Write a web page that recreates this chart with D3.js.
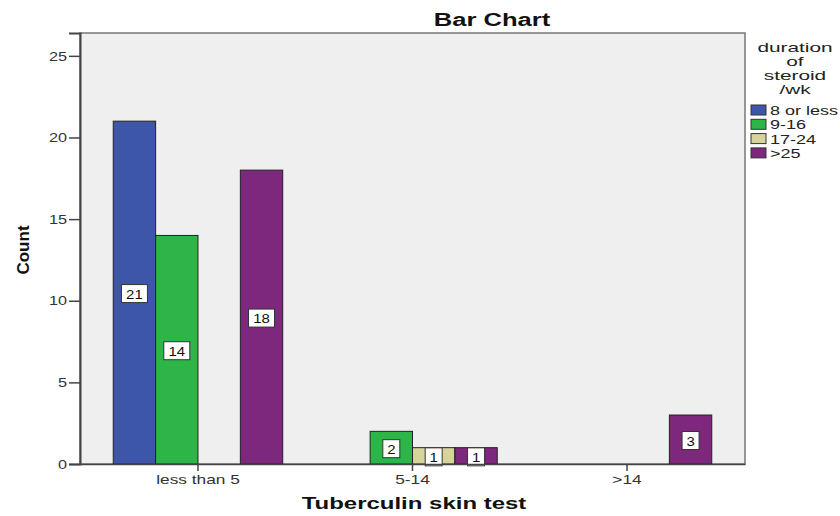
<!DOCTYPE html>
<html>
<head>
<meta charset="utf-8">
<script src="https://cdn.jsdelivr.net/npm/d3@7"></script>
<style>
  body { margin: 0; background: #fff; }
  svg { display: block; font-family: "Liberation Sans", Arial, sans-serif; }
</style>
</head>
<body>
<script>
const categories = ["less than 5", "5-14", ">14"];
const groups = ["8 or less", "9-16", "17-24", ">25"];
const colors = ["#3d56aa", "#2db548", "#d6d39b", "#7d287d"];
const less5 = [21, 14, 0, 18];
const from5to14 = [0, 2, 1, 1];
const over14 = [0, 0, 0, 3];
const yTicks = [0, 5, 10, 15, 20, 25];

const series = [less5, from5to14, over14];

const w = 840;
const h = 516;
const m = {left: 80, right: 95, top: 33, bottom: 52};

const svg = d3.select("body").append("svg")
  .attr("width", w)
  .attr("height", h);

// the reference text is drawn wide, so stretch text horizontally
function stretch(sel, k) {
  sel.each(function() {
    const len = this.getComputedTextLength();
    d3.select(this)
      .attr("textLength", len * k)
      .attr("lengthAdjust", "spacingAndGlyphs");
  });
}

const x = d3.scaleBand()
  .domain(categories)
  .range([m.left, w - m.right])
  .paddingInner(0.21)
  .paddingOuter(0.155);

const xSub = d3.scaleBand()
  .domain(groups)
  .range([0, x.bandwidth()]);

const y = d3.scaleLinear()
  .domain([0, 26.4])
  .range([h - m.bottom, m.top]);

const color = d3.scaleOrdinal().domain(groups).range(colors);

// plot background
svg.append("rect")
  .attr("x", m.left)
  .attr("y", m.top)
  .attr("width", w - m.right - m.left)
  .attr("height", h - m.bottom - m.top)
  .attr("fill", "#efefef")
  .attr("stroke", "#777")
  .attr("stroke-width", 1.5);

// bars
const rows = [];
series.forEach((vals, i) => {
  vals.forEach((v, j) => {
    if (v > 0) rows.push({cat: categories[i], grp: groups[j], value: v});
  });
});

const bars = svg.append("g")
  .selectAll("g")
  .data(rows)
  .enter().append("g")
  .attr("transform", d => `translate(${x(d.cat) + xSub(d.grp)},0)`);

bars.append("rect")
  .attr("x", 0)
  .attr("y", d => y(d.value))
  .attr("width", xSub.bandwidth())
  .attr("height", d => y(0) - y(d.value))
  .attr("fill", d => color(d.grp))
  .attr("stroke", "#222")
  .attr("stroke-width", 1);

// value labels
bars.each(function(d) {
  const g = d3.select(this);
  const cx = xSub.bandwidth() / 2;
  const cy = (y(d.value) + y(0)) / 2 + 1;
  const txt = String(d.value);
  const bw = txt.length > 1 ? 26 : 17;
  g.append("rect")
    .attr("x", cx - bw / 2)
    .attr("y", cy - 9)
    .attr("width", bw)
    .attr("height", 18)
    .attr("fill", "#fff")
    .attr("stroke", "#333")
    .attr("stroke-width", 1);
  g.append("text")
    .attr("class", "val")
    .attr("x", cx)
    .attr("y", cy + 5)
    .attr("text-anchor", "middle")
    .attr("font-size", 13)
    .attr("fill", "#111")
    .text(txt);
});
stretch(svg.selectAll("text.val"), 1.15);

// y axis
const yAxis = svg.append("g")
  .attr("transform", `translate(${m.left},0)`)
  .call(d3.axisLeft(y).tickValues(yTicks).tickSize(11).tickPadding(2));
yAxis.select(".domain").attr("stroke", "#444").attr("stroke-width", 2);
yAxis.selectAll(".tick line").attr("stroke", "#444").attr("stroke-width", 1.5);
yAxis.selectAll(".tick text")
  .attr("font-size", 13)
  .attr("font-family", "Liberation Sans, Arial, sans-serif")
  .attr("fill", "#333");
stretch(yAxis.selectAll(".tick text"), 1.25);

// x axis
const xAxis = svg.append("g")
  .attr("transform", `translate(0,${h - m.bottom})`)
  .call(d3.axisBottom(x).tickSize(7).tickPadding(4).tickSizeOuter(0));
xAxis.select(".domain").attr("stroke", "#444").attr("stroke-width", 1.5);
xAxis.selectAll(".tick line").attr("stroke", "#444").attr("stroke-width", 1.5);
xAxis.selectAll(".tick text")
  .attr("font-size", 13)
  .attr("font-family", "Liberation Sans, Arial, sans-serif")
  .attr("fill", "#333");
stretch(xAxis.selectAll(".tick text"), 1.33);

// titles
const title = svg.append("text")
  .attr("x", 492)
  .attr("y", 26)
  .attr("text-anchor", "middle")
  .attr("font-size", 18)
  .attr("font-weight", "bold")
  .attr("fill", "#111")
  .text("Bar Chart");
stretch(title, 1.42);

const xTitle = svg.append("text")
  .attr("x", 414)
  .attr("y", 509)
  .attr("text-anchor", "middle")
  .attr("font-size", 17)
  .attr("font-weight", "bold")
  .attr("fill", "#111")
  .text("Tuberculin skin test");
stretch(xTitle, 1.41);

svg.append("text")
  .attr("transform", "translate(29,250) rotate(-90)")
  .attr("text-anchor", "middle")
  .attr("font-size", 17)
  .attr("font-weight", "bold")
  .attr("fill", "#111")
  .text("Count");

// legend
const legTitle = ["duration", "of", "steroid", "/wk"];
const lt = svg.append("g")
  .selectAll("text")
  .data(legTitle)
  .enter().append("text")
  .attr("x", 795)
  .attr("y", (d, i) => 52 + i * 14)
  .attr("text-anchor", "middle")
  .attr("font-size", 13)
  .attr("fill", "#222")
  .text(d => d);
stretch(lt, 1.6);

const legend = svg.append("g")
  .attr("transform", "translate(751,105)");

const item = legend.selectAll("g")
  .data(groups)
  .enter().append("g")
  .attr("transform", (d, i) => `translate(0,${i * 14.3})`);

item.append("rect")
  .attr("width", 15)
  .attr("height", 10)
  .attr("fill", d => color(d))
  .attr("stroke", "#333");

const lab = item.append("text")
  .attr("x", 19)
  .attr("y", 10)
  .attr("font-size", 12)
  .attr("fill", "#222")
  .text(d => d);
stretch(lab, 1.5);
</script>
</body>
</html>
